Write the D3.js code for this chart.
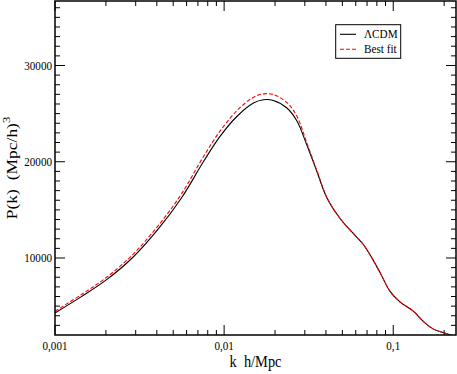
<!DOCTYPE html>
<html>
<head>
<meta charset="utf-8">
<script src="https://cdn.jsdelivr.net/npm/d3@7"></script>
<style>
  html, body { margin: 0; padding: 0; background: #fff; }
  svg { display: block; }
  text { font-family: "Liberation Serif", "Times New Roman", serif; fill: #000; }
</style>
</head>
<body>
<svg id="chart" width="457" height="374"></svg>
<script>
// ---- data ----
const kValues = [0.001, 0.00144, 0.00202, 0.00286, 0.00406, 0.00562, 0.00754, 0.00946, 0.01189, 0.01491,
  0.01708, 0.01957, 0.0235, 0.0269, 0.0308, 0.0354, 0.0405, 0.0486, 0.0582, 0.0667,
  0.0748, 0.0838, 0.0960, 0.1100, 0.1318, 0.151, 0.173, 0.1984, 0.2328];
const lcdmValues = [4290, 6010, 7750, 10000, 12970, 16290, 20000, 22630, 24700, 26100,
  26440, 26370, 25580, 24260, 21770, 18960, 16260, 14080, 12520, 11380,
  10000, 8440, 6500, 5410, 4460, 3390, 2610, 2240, 1830];
const bestFitValues = [4470, 6230, 8000, 10300, 13320, 16710, 20520, 23180, 25300, 26700,
  27050, 26980, 26150, 24750, 21980, 19060, 16300, 14080, 12520, 11380,
  10000, 8440, 6500, 5410, 4460, 3390, 2610, 2240, 1830];
const seriesNames = ["\u039BCDM", "Best fit"];
const xMajorTicks = [0.001, 0.01, 0.1];
const xTickLabels = ["0,001", "0,01", "0,1"];
const yMajorTicks = [10000, 20000, 30000];
const yTickLabels = ["10000", "20000", "30000"];
const xDomain = [0.001, 0.235];
const yDomain = [2000, 36700];

// ---- layout ----
const svg = d3.select("#chart");
const L = 55, R = 456, T = 1, B = 335;
const x = d3.scaleLog().domain(xDomain).range([L, R]);
const y = d3.scaleLinear().domain(yDomain).range([B, T]);
const SY = 1.15; // vertical text stretch of the reference

svg.append("defs").append("clipPath").attr("id", "clip")
  .append("rect").attr("x", L).attr("y", T).attr("width", R - L).attr("height", B - T);

// minor ticks
const xMinor = [];
[0.001, 0.01, 0.1].forEach(d => { for (let i = 2; i <= 9; i++) { const v = d * i; if (v < xDomain[1]) xMinor.push(v); } });
const yMinor = d3.range(3000, 36700, 1000).filter(v => v % 10000 !== 0);

const tickG = svg.append("g").attr("stroke", "#000").attr("stroke-width", 1);
function vt(v, len) { // x ticks bottom & top
  tickG.append("line").attr("x1", x(v)).attr("x2", x(v)).attr("y1", B).attr("y2", B - len);
  tickG.append("line").attr("x1", x(v)).attr("x2", x(v)).attr("y1", T).attr("y2", T + len);
}
function ht(v, len) { // y ticks left & right
  tickG.append("line").attr("y1", y(v)).attr("y2", y(v)).attr("x1", L).attr("x2", L + len);
  tickG.append("line").attr("y1", y(v)).attr("y2", y(v)).attr("x1", R).attr("x2", R - len);
}
xMinor.forEach(v => vt(v, 5));
xMajorTicks.forEach(v => vt(v, 10));
yMinor.forEach(v => ht(v, 5));
yMajorTicks.forEach(v => ht(v, 10));

// curves
const lineGen = d3.line().x(d => x(d[0])).y(d => y(d[1])).curve(d3.curveCatmullRom.alpha(0.5));
const plotG = svg.append("g").attr("clip-path", "url(#clip)");
plotG.append("path").datum(kValues.map((k, i) => [k, lcdmValues[i]]))
  .attr("d", lineGen).attr("fill", "none").attr("stroke", "#000").attr("stroke-width", 1.1);
plotG.append("path").datum(kValues.map((k, i) => [k, bestFitValues[i]]))
  .attr("d", lineGen).attr("fill", "none").attr("stroke", "#ff0000").attr("stroke-width", 1.1)
  .attr("stroke-dasharray", "4,2");

// frame
svg.append("rect").attr("x", L).attr("y", T).attr("width", R - L).attr("height", B - T)
  .attr("fill", "none").attr("stroke", "#000").attr("stroke-width", 1.5);

// tick labels
xMajorTicks.forEach((v, i) => {
  svg.append("text").attr("transform", `translate(${x(v)},350) scale(1,${SY})`)
    .attr("text-anchor", "middle").attr("font-size", 11.1).text(xTickLabels[i]);
});
yMajorTicks.forEach((v, i) => {
  svg.append("text").attr("transform", `translate(52,${y(v) + 4.2}) scale(1,${SY})`)
    .attr("text-anchor", "end").attr("font-size", 11.1).text(yTickLabels[i]);
});

// axis titles
svg.append("text").attr("transform", `translate(${(L + R) / 2},366.5) scale(1,${SY})`)
  .attr("text-anchor", "middle").attr("font-size", 14.4)
  .text("k\u00A0\u00A0h/Mpc");
const yt = svg.append("text").attr("transform", `translate(16.5,168) rotate(-90) scale(1.25,1)`)
  .attr("text-anchor", "middle").attr("font-size", 14);
yt.append("tspan").text("P(k)\u00A0\u00A0(Mpc/h)");
yt.append("tspan").attr("font-size", 10).attr("dy", -7).text("3");

// legend
const lg = svg.append("g");
lg.append("rect").attr("x", 335.7).attr("y", 24.7).attr("width", 65).attr("height", 33.6)
  .attr("fill", "#fff").attr("stroke", "#000").attr("stroke-width", 1);
lg.append("line").attr("x1", 340).attr("x2", 356).attr("y1", 34.3).attr("y2", 34.3)
  .attr("stroke", "#000").attr("stroke-width", 1.1);
lg.append("line").attr("x1", 340).attr("x2", 356).attr("y1", 49.3).attr("y2", 49.3)
  .attr("stroke", "#ff0000").attr("stroke-width", 1.1).attr("stroke-dasharray", "4,2");
lg.append("text").attr("transform", `translate(364,38.3) scale(1,${SY})`).attr("font-size", 11.2).text(seriesNames[0]);
lg.append("text").attr("transform", `translate(364,53.3) scale(1,${SY})`).attr("font-size", 11.2).text(seriesNames[1]);
</script>
</body>
</html>
